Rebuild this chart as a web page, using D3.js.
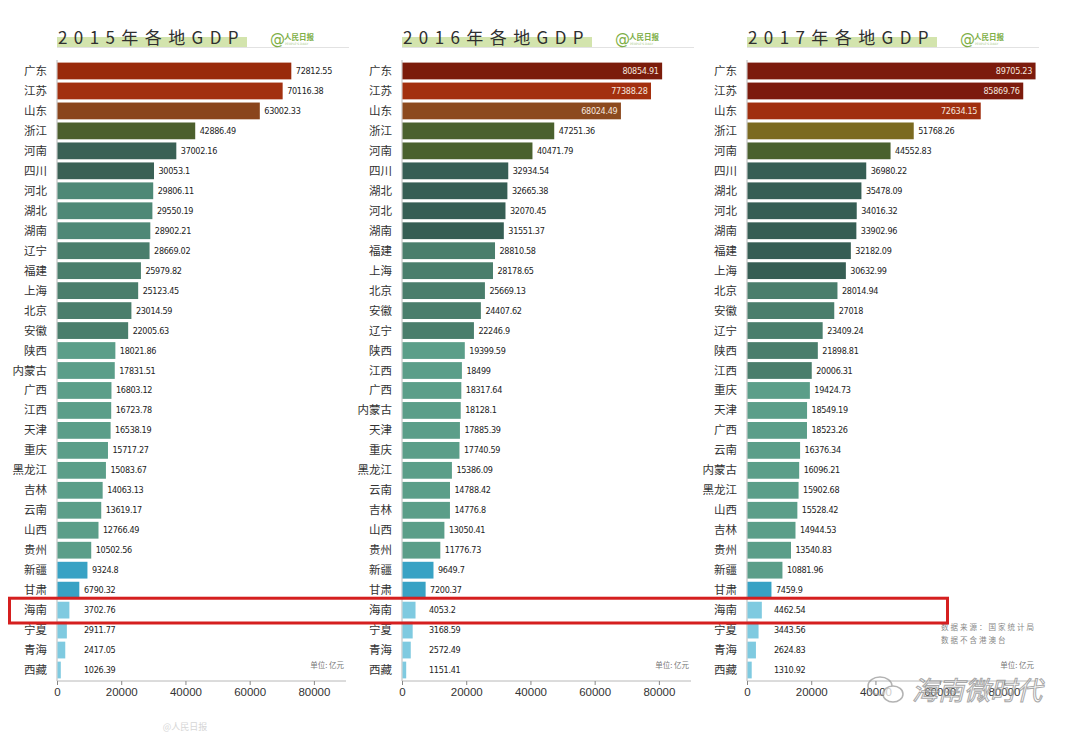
<!DOCTYPE html>
<html lang="zh">
<head>
<meta charset="UTF-8">
<title>各地GDP</title>
<style>
  body { margin: 0; background: #fff; }
  svg { display: block; }
  .cat { font-family: 'Noto Sans CJK SC', sans-serif; font-size: 11.5px; fill: #333; }
  .val { font-family: 'Liberation Sans Narrow', 'DejaVu Sans Condensed', sans-serif; font-size: 9px; letter-spacing: -0.3px; }
  .tick text { font-family: 'Liberation Sans', 'DejaVu Sans', sans-serif; font-size: 11.5px; fill: #333; }
</style>
</head>
<body>
<div id="chart"></div>
<script src="https://d3js.org/d3.v7.min.js"></script>
<script>
// --- data ---
const years = ['2015', '2016', '2017'];

const provinces2015 = ['广东','江苏','山东','浙江','河南','四川','河北','湖北','湖南','辽宁','福建','上海','北京','安徽','陕西','内蒙古','广西','江西','天津','重庆','黑龙江','吉林','云南','山西','贵州','新疆','甘肃','海南','宁夏','青海','西藏'];
const gdp2015 = [72812.55,70116.38,63002.33,42886.49,37002.16,30053.1,29806.11,29550.19,28902.21,28669.02,25979.82,25123.45,23014.59,22005.63,18021.86,17831.51,16803.12,16723.78,16538.19,15717.27,15083.67,14063.13,13619.17,12766.49,10502.56,9324.8,6790.32,3702.76,2911.77,2417.05,1026.39];

const provinces2016 = ['广东','江苏','山东','浙江','河南','四川','湖北','河北','湖南','福建','上海','北京','安徽','辽宁','陕西','江西','广西','内蒙古','天津','重庆','黑龙江','云南','吉林','山西','贵州','新疆','甘肃','海南','宁夏','青海','西藏'];
const gdp2016 = [80854.91,77388.28,68024.49,47251.36,40471.79,32934.54,32665.38,32070.45,31551.37,28810.58,28178.65,25669.13,24407.62,22246.9,19399.59,18499,18317.64,18128.1,17885.39,17740.59,15386.09,14788.42,14776.8,13050.41,11776.73,9649.7,7200.37,4053.2,3168.59,2572.49,1151.41];

const provinces2017 = ['广东','江苏','山东','浙江','河南','四川','湖北','河北','湖南','福建','上海','北京','安徽','辽宁','陕西','江西','重庆','天津','广西','云南','内蒙古','黑龙江','山西','吉林','贵州','新疆','甘肃','海南','宁夏','青海','西藏'];
const gdp2017 = [89705.23,85869.76,72634.15,51768.26,44552.83,36980.22,35478.09,34016.32,33902.96,32182.09,30632.99,28014.94,27018,23409.24,21898.81,20006.31,19424.73,18549.19,18523.26,16376.34,16096.21,15902.68,15528.42,14944.53,13540.83,10881.96,7459.9,4462.54,3443.56,2624.83,1310.92];

const xTicks = [0, 20000, 40000, 60000, 80000];
const highlight = '海南';

// colour runs (count, colour) from top bar down
const runs2015 = [[1,'#992a0b'],[1,'#a2300f'],[1,'#8a451c'],[1,'#4c5f2d'],[2,'#3a6155'],[3,'#4e8876'],[5,'#4a7e6c'],[11,'#5b9e89'],[2,'#38a2c4'],[4,'#7fcae0']];
const runs2016 = [[1,'#7b1c0b'],[1,'#a3300f'],[1,'#8c4a1f'],[2,'#4a612e'],[4,'#365e54'],[5,'#4a7e6c'],[11,'#5b9e89'],[2,'#38a2c4'],[4,'#7fcae0']];
const runs2017 = [[2,'#7c1b0d'],[1,'#a02f0f'],[1,'#7b6a20'],[1,'#4a612e'],[6,'#365e54'],[5,'#4a7e6c'],[10,'#5b9e89'],[1,'#38a2c4'],[4,'#7fcae0']];

const panels = [
  {year: years[0], cats: provinces2015, vals: gdp2015, runs: runs2015, inside: 0, x0: 57},
  {year: years[1], cats: provinces2016, vals: gdp2016, runs: runs2016, inside: 3, x0: 402},
  {year: years[2], cats: provinces2017, vals: gdp2017, runs: runs2017, inside: 3, x0: 747}
];

const W = 1080, H = 735;
const svg = d3.select('#chart').append('svg').attr('width', W).attr('height', H);

function expandRuns(runs) {
  const out = [];
  runs.forEach(r => { for (let i = 0; i < r[0]; i++) out.push(r[1]); });
  return out;
}

const y = d3.scaleBand().domain(d3.range(31)).range([61, 680]).paddingInner(0.16).paddingOuter(0.08);

panels.forEach(p => {
  const x = d3.scaleLinear().domain([0, 90000]).range([p.x0, p.x0 + 289]);
  const colors = expandRuns(p.runs);
  const g = svg.append('g');

  // title with green highlight
  g.append('rect').attr('x', p.x0).attr('y', 37).attr('width', 190).attr('height', 10).attr('fill', '#d3e4ad');
  g.append('line').attr('x1', p.x0).attr('x2', p.x0 + 292).attr('y1', 47.5).attr('y2', 47.5)
    .attr('stroke', '#e2e2e2').attr('stroke-width', 1);
  g.append('text').attr('x', p.x0 + 1).attr('y', 44)
    .style('font-family', "'Noto Sans CJK SC', sans-serif").style('font-size', '17px')
    .style('letter-spacing', '6.4px').attr('fill', '#2f2f2f')
    .text(p.year + '年各地GDP');
  // logo
  const lg = g.append('g').attr('transform', `translate(${p.x0 + 213},0)`);
  lg.append('text').attr('x', 0).attr('y', 44).attr('fill', '#7dae45')
    .style('font-family', 'DejaVu Sans, sans-serif').style('font-size', '15px').text('@');
  lg.append('text').attr('x', 14).attr('y', 40).attr('fill', '#7dae45')
    .style('font-family', "'Noto Sans CJK SC', sans-serif").style('font-size', '7.5px').style('font-weight', 'bold').text('人民日报');
  lg.append('text').attr('x', 15).attr('y', 45).attr('fill', '#a9c98a')
    .style('font-family', 'DejaVu Sans, sans-serif').style('font-size', '3px').text("PEOPLE'S DAILY");

  // left axis line
  g.append('line').attr('x1', p.x0).attr('x2', p.x0).attr('y1', 60).attr('y2', 681)
    .attr('stroke', '#b8b8b8');

  // bars
  g.selectAll('rect.bar').data(p.vals).join('rect').attr('class', 'bar')
    .attr('x', p.x0 + 0.5).attr('y', (d, i) => y(i))
    .attr('width', d => x(d) - p.x0).attr('height', y.bandwidth())
    .attr('fill', (d, i) => colors[i]);

  // category labels
  g.selectAll('text.cat').data(p.cats).join('text').attr('class', 'cat')
    .attr('x', p.x0 - 10).attr('y', (d, i) => y(i) + y.bandwidth() / 2 + 4)
    .attr('text-anchor', 'end').text(d => d);

  // value labels
  g.selectAll('text.val').data(p.vals).join('text').attr('class', 'val')
    .attr('x', (d, i) => i < p.inside ? x(d) - 3 : Math.max(x(d) + 5, p.x0 + 27))
    .attr('y', (d, i) => y(i) + y.bandwidth() / 2 + 3)
    .attr('text-anchor', (d, i) => i < p.inside ? 'end' : 'start')
    .attr('fill', (d, i) => i < p.inside ? '#f4e6df' : '#222')
    .text(d => d);

  // bottom axis
  const ax = g.append('g').attr('transform', 'translate(0,681)')
    .call(d3.axisBottom(x).tickValues(xTicks).tickSize(4).tickPadding(3).tickFormat(d3.format('d')));
  ax.select('.domain').attr('stroke', '#b8b8b8').attr('d', `M${p.x0},0H${p.x0 + 289}`);
  ax.selectAll('.tick line').attr('stroke', '#888');

  g.append('text').attr('x', p.x0 + 287).attr('y', 668).attr('text-anchor', 'end')
    .attr('fill', '#777').style('font-family', "'Noto Sans CJK SC', sans-serif").style('font-size', '7.5px')
    .text('单位: 亿元');
});

// source note on last panel
const note = svg.append('g').attr('fill', '#888')
  .style('font-family', "'Noto Sans CJK SC', sans-serif").style('font-size', '7.5px').style('letter-spacing', '2px');
note.append('text').attr('x', 941).attr('y', 630).text('数据来源：国家统计局');
note.append('text').attr('x', 941).attr('y', 643).text('数据不含港澳台');

// red highlight box around the highlighted province row
const hi = provinces2015.indexOf(highlight);
svg.append('rect').attr('x', 9.5).attr('y', y(hi) - 3.5).attr('width', 938).attr('height', y.bandwidth() + 8)
  .attr('fill', 'none').attr('stroke', '#d51f1f').attr('stroke-width', 3);

// watermarks
svg.append('text').attr('x', 185).attr('y', 730).attr('text-anchor', 'middle')
  .attr('fill', '#d6d6d6').style('font-family', "'Noto Sans CJK SC', sans-serif").style('font-size', '9px')
  .text('@人民日报');
const wm = svg.append('g').attr('opacity', 0.75);
wm.append('ellipse').attr('cx', 880).attr('cy', 686).attr('rx', 12).attr('ry', 9)
  .attr('fill', 'none').attr('stroke', '#9a9a9a').attr('stroke-width', 1.5);
wm.append('ellipse').attr('cx', 893).attr('cy', 694).attr('rx', 10).attr('ry', 8)
  .attr('fill', '#fff').attr('stroke', '#9a9a9a').attr('stroke-width', 1.5);
wm.append('text').attr('x', 912).attr('y', 700)
  .attr('fill', 'rgba(255,255,255,0.6)').attr('stroke', '#8c8c8c').attr('stroke-width', 1)
  .style('font-family', "'Noto Sans CJK SC', sans-serif").style('font-size', '26px').style('font-style', 'italic')
  .text('海南微时代');
</script>
</body>
</html>
